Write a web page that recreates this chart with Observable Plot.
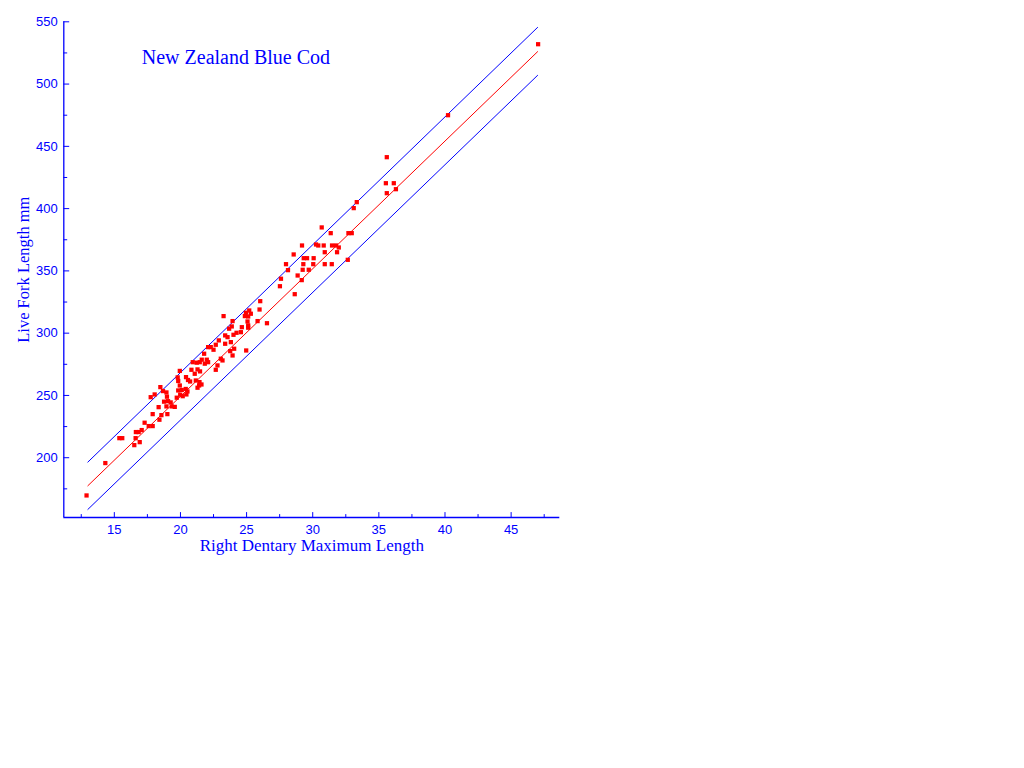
<!DOCTYPE html>
<html><head><meta charset="utf-8">
<script src="https://cdn.jsdelivr.net/npm/d3@7"></script>
<script src="https://cdn.jsdelivr.net/npm/@observablehq/plot@0.6"></script>
<style>body{margin:0;background:#fff}</style>
</head><body><div id="chart"></div>
<script>
const dentary = [12.90,14.32,15.38,15.60,16.51,16.61,16.92,16.63,16.84,17.07,17.29,17.60,17.90,17.90,18.41,18.56,19.01,18.35,17.75,18.05,
18.48,18.68,18.94,18.98,18.76,19.06,18.94,19.26,19.34,19.57,19.95,19.79,19.83,19.95,19.83,20.10,19.98,20.17,19.72,20.40,
20.53,20.42,20.57,20.45,20.73,20.83,20.93,21.23,21.46,21.29,21.48,21.08,21.16,21.44,21.41,21.59,21.29,21.79,21.61,21.99,
22.09,21.84,22.09,22.29,22.67,22.50,23.18,23.05,22.80,22.67,22.90,23.38,23.56,23.38,23.81,23.76,24.06,23.94,23.26,23.88,
23.94,23.68,24.01,24.24,24.57,24.64,24.87,25.12,25.20,25.32,24.95,25.07,25.12,25.12,25.98,25.83,26.03,26.54,24.97,30.68,
31.36,32.70,32.95,29.19,30.25,30.42,30.83,31.46,31.76,31.97,30.91,31.84,28.56,29.32,29.57,30.07,29.29,30.04,30.91,31.44,
32.65,27.98,28.13,29.24,29.70,28.86,29.17,27.60,27.52,28.64,47.04,40.23,35.60,35.53,36.13,35.60,36.29,33.33,33.10];
const forkLength = [169.7,195.7,215.7,215.7,210.1,215.7,212.5,220.6,220.6,222.2,228.1,225.4,225.4,235.0,230.5,234.2,235.0,240.6,248.6,250.8,
256.7,253.5,252.4,249.0,245.0,245.4,241.2,244.4,241.2,240.8,269.7,264.5,261.6,258.0,254.0,254.4,250.6,249.4,248.2,255.2,
253.2,264.7,262.4,250.8,261.2,270.6,276.7,276.3,276.7,270.9,269.3,267.4,262.0,260.7,258.0,258.8,256.2,283.5,278.7,278.7,
276.7,275.5,288.8,288.8,290.7,286.7,278.1,279.5,274.1,270.6,294.2,298.2,296.8,291.5,292.8,285.6,287.5,282.1,313.7,305.4,
309.7,303.6,298.7,300.3,300.8,304.8,313.7,313.4,318.2,315.6,316.4,309.4,306.2,304.4,319.0,309.7,325.7,308.0,286.1,384.9,
380.3,380.3,380.3,370.4,371.2,370.4,370.4,370.4,370.4,368.8,365.0,365.0,363.2,360.2,360.2,360.2,355.4,355.4,355.4,355.4,
358.9,355.4,350.6,350.9,350.9,346.3,342.6,343.7,337.7,331.3,532.0,475.0,441.3,420.4,420.4,412.4,415.6,405.2,400.4];
const lineX = [13, 47];
const fitY = [177.5, 526];
const upperY = [196.5, 545.5];
const lowerY = [158.5, 507];
const xTicks = [15, 20, 25, 30, 35, 40, 45];
const xMinor = [12.5, 17.5, 22.5, 27.5, 32.5, 37.5, 42.5, 47.5];
const yTicks = [200, 250, 300, 350, 400, 450, 500, 550];
const yMinor = [175, 225, 275, 325, 375, 425, 475, 525];
const xDomain = [11.18, 48.68];
const yDomain = [152, 550];
const title = "New Zealand Blue Cod";
const xLabel = "Right Dentary Maximum Length";
const yLabel = "Live Fork Length mm";

const blue = "#0000ff", red = "#ff0000";
const serif = "'Liberation Serif', 'DejaVu Serif', serif";
const sans = "'Liberation Sans', Arial, sans-serif";
const two = {length: 2};
const stick = {draw(context, l) { context.moveTo(0, 0); context.lineTo(0, -l); }};

const chart = Plot.plot({
  width: 1024, height: 768,
  marginLeft: 63.3, marginRight: 464.7, marginTop: 21.3, marginBottom: 251,
  style: {fontFamily: sans, fontSize: "13px", background: "#fff", color: blue},
  x: {domain: xDomain},
  y: {domain: yDomain},
  marks: [
    Plot.line(two, {x: lineX, y: upperY, stroke: blue, strokeWidth: 1}),
    Plot.line(two, {x: lineX, y: fitY, stroke: red, strokeWidth: 1}),
    Plot.line(two, {x: lineX, y: lowerY, stroke: blue, strokeWidth: 1}),
    Plot.dot(dentary, {x: dentary, y: forkLength, symbol: "square", r: 2.4, fill: red, stroke: null}),
    Plot.ruleX([xDomain[0]], {stroke: blue, strokeWidth: 1.3}),
    Plot.ruleY([yDomain[0]], {stroke: blue, strokeWidth: 1.3}),
    Plot.vector(xTicks, {x: d => d, frameAnchor: "bottom", anchor: "start", length: 5, rotate: 0, shape: stick, stroke: blue, strokeWidth: 1}),
    Plot.vector(xMinor, {x: d => d, frameAnchor: "bottom", anchor: "start", length: 3, rotate: 0, shape: stick, stroke: blue, strokeWidth: 1}),
    Plot.vector(yTicks, {y: d => d, frameAnchor: "left", anchor: "start", length: 5, rotate: 90, shape: stick, stroke: blue, strokeWidth: 1}),
    Plot.vector(yMinor, {y: d => d, frameAnchor: "left", anchor: "start", length: 3, rotate: 90, shape: stick, stroke: blue, strokeWidth: 1}),
    Plot.axisX(xTicks, {anchor: "bottom", tickSize: 0, tickPadding: 7, color: blue, fontSize: 13}),
    Plot.axisY(yTicks, {anchor: "left", tickSize: 0, tickPadding: 6, color: blue, fontSize: 13}),
    Plot.text([title], {frameAnchor: "top-left", dx: 78, dy: 36, textAnchor: "start", lineAnchor: "middle", fill: blue, fontSize: 20, fontFamily: serif}),
    Plot.text([xLabel], {frameAnchor: "bottom", dy: 28, textAnchor: "middle", lineAnchor: "middle", fill: blue, fontSize: 17, fontFamily: serif}),
    Plot.text([yLabel], {frameAnchor: "left", dx: -40, rotate: -90, textAnchor: "middle", lineAnchor: "middle", fill: blue, fontSize: 16.5, fontFamily: serif})
  ]
});
document.getElementById("chart").appendChild(chart);
</script>
</body></html>
